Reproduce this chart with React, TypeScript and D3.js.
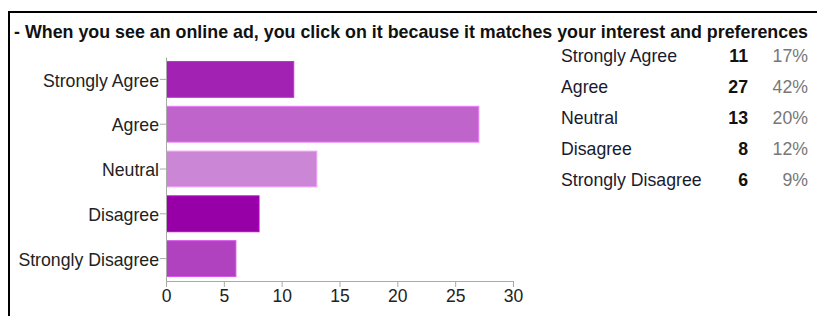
import React, { useEffect, useRef } from "react";
import * as d3 from "d3";

const title = "- When you see an online ad, you click on it because it matches your interest and preferences";
const categories = ["Strongly Agree", "Agree", "Neutral", "Disagree", "Strongly Disagree"];
const counts = [11, 27, 13, 8, 6];
const percents = ["17%", "42%", "20%", "12%", "9%"];
const barColors = ["#a222b4", "#bf64cb", "#cb86d6", "#9600a6", "#b042c0"];
const xTicks = [0, 5, 10, 15, 20, 25, 30];

export default function App() {
  const ref = useRef<SVGSVGElement>(null);
  useEffect(() => {
    const svg = d3.select(ref.current);
    svg.selectAll("*").remove();
    const font = "'Liberation Sans', Arial, sans-serif";
    const fs = 17.7;

    // frame
    svg.append("line").attr("x1", 8).attr("x2", 817).attr("y1", 12).attr("y2", 12).attr("stroke", "#000").attr("stroke-width", 2);
    svg.append("line").attr("x1", 9).attr("x2", 9).attr("y1", 11).attr("y2", 316).attr("stroke", "#000").attr("stroke-width", 2);

    svg.append("text").attr("x", 14).attr("y", 38).attr("font-family", font).attr("font-size", 17.7)
      .attr("font-weight", "bold").attr("fill", "#111").attr("textLength", 794).attr("lengthAdjust", "spacingAndGlyphs").text(title);

    const x = d3.scaleLinear().domain([0, 30]).range([166, 513]);
    const y = d3.scaleBand<string>().domain(categories).range([57, 281]).paddingInner(0.2).paddingOuter(0.1);

    const g = svg.append("g");
    g.selectAll("rect.bar").data(categories).enter().append("rect")
      .attr("x", x(0) + 0.5)
      .attr("y", (d) => y(d)!)
      .attr("width", (d, i) => x(counts[i]) - x(0))
      .attr("height", y.bandwidth())
      .attr("fill", (d, i) => barColors[i])
      .attr("stroke", (d, i) => d3.color(barColors[i])!.brighter(0.6).toString())
      .attr("stroke-width", 1);

    const xAxis = svg.append("g").attr("transform", "translate(0,281)")
      .call(d3.axisBottom(x).tickValues(xTicks).tickSize(6).tickSizeOuter(0).tickFormat(d3.format("d")));
    xAxis.select(".domain").attr("stroke", "#aaa");
    xAxis.selectAll(".tick line").attr("stroke", "#aaa");
    xAxis.selectAll(".tick text").attr("font-family", font).attr("font-size", 17.5).attr("fill", "#222").attr("y", 9);

    const yAxis = svg.append("g").attr("transform", `translate(166,0)`)
      .call(d3.axisLeft(y).tickSize(6).tickSizeOuter(0));
    yAxis.select(".domain").attr("stroke", "#aaa");
    yAxis.selectAll(".tick line").attr("stroke", "#aaa");
    yAxis.selectAll(".tick text").attr("font-family", font).attr("font-size", fs).attr("fill", "#222").attr("x", -7).attr("y", 1.5);

    // table
    const rowY = d3.scalePoint<string>().domain(categories).range([56, 180]);
    const t = svg.append("g");
    categories.forEach((c, i) => {
      const yy = rowY(c)!;
      t.append("text").attr("x", 561).attr("y", yy).attr("dy", "0.35em").attr("font-family", font)
        .attr("font-size", fs).attr("fill", "#1a1a2e").text(c);
      t.append("text").attr("x", 748).attr("y", yy).attr("dy", "0.35em").attr("text-anchor", "end").attr("font-family", font)
        .attr("font-size", fs).attr("font-weight", "bold").attr("fill", "#111").text(String(counts[i]));
      t.append("text").attr("x", 808).attr("y", yy).attr("dy", "0.35em").attr("text-anchor", "end").attr("font-family", font)
        .attr("font-size", fs).attr("fill", "#777").text(percents[i]);
    });
  }, []);
  return (
    <svg ref={ref} width={817} height={316} style={{ position: "absolute", left: 0, top: 0, background: "#fff" }} />
  );
}
